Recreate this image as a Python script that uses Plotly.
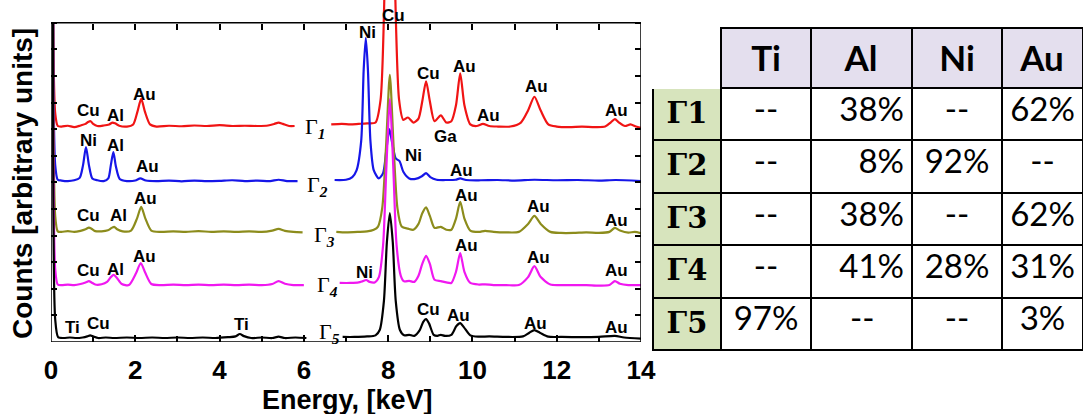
import plotly.graph_objects as go

# ---------------- EDX spectra data (energy in keV, counts in arbitrary units above each baseline)
g1_left_keV = [0.05, 0.1, 0.16, 0.25, 0.4, 0.55, 0.7, 0.82, 0.88, 0.94, 1.0, 1.1, 1.25, 1.38, 1.46, 1.52, 1.62, 1.8, 1.95, 2.05, 2.14, 2.23, 2.35, 2.5, 2.8, 3.1, 3.4, 3.7, 4.0, 4.3, 4.6, 4.9, 5.15, 5.3, 5.4, 5.5, 5.65, 5.78]
g1_left_counts = [3.9, 0.5, 0.02, 0.0, 0.03, -0.02, 0.04, 0.1, 0.17, 0.2, 0.1, 0.02, 0.04, 0.08, 0.15, 0.12, 0.03, 0.0, 0.08, 0.55, 1.04, 0.55, 0.08, 0.0, 0.03, 0.01, 0.04, 0.02, 0.05, 0.02, 0.03, 0.02, 0.04, 0.1, 0.15, 0.1, 0.02, 0.02]
g1_right_keV = [6.65, 6.9, 7.1, 7.3, 7.5, 7.7, 7.82, 7.92, 8.04, 8.16, 8.26, 8.36, 8.47, 8.6, 8.72, 8.81, 8.9, 8.99, 9.1, 9.25, 9.38, 9.5, 9.61, 9.71, 9.81, 9.95, 10.1, 10.25, 10.4, 10.6, 10.9, 11.15, 11.32, 11.47, 11.62, 11.8, 12.0, 12.3, 12.6, 12.9, 13.15, 13.28, 13.38, 13.48, 13.62, 13.75, 13.88, 14.0]
g1_right_counts = [0.08, 0.1, 0.08, 0.1, 0.12, 0.15, 1.0, 5.5, 16.0, 5.5, 1.0, 0.25, 0.34, 0.15, 0.3, 0.95, 1.7, 0.95, 0.2, 0.42, 0.15, 0.2, 0.8, 2.0, 0.8, 0.08, 0.02, 0.1, 0.02, 0.0, 0.0, 0.15, 0.6, 1.12, 0.6, 0.08, 0.0, -0.02, 0.0, -0.02, 0.0, 0.15, 0.28, 0.15, 0.02, 0.08, 0.0, -0.05]

g2_left_keV = [0.05, 0.1, 0.16, 0.25, 0.4, 0.55, 0.68, 0.76, 0.83, 0.9, 0.98, 1.1, 1.25, 1.36, 1.42, 1.48, 1.54, 1.63, 1.8, 2.0, 2.12, 2.25, 2.5, 2.8, 3.1, 3.4, 3.7, 4.0, 4.3, 4.6, 4.9, 5.2, 5.4, 5.6, 5.85]
g2_left_counts = [5.95, 0.6, 0.05, 0.02, 0.0, 0.03, 0.12, 0.6, 1.28, 0.6, 0.1, 0.03, 0.0, 0.1, 0.6, 1.09, 0.55, 0.08, 0.0, 0.02, 0.1, 0.02, 0.0, 0.02, -0.01, 0.02, 0.0, 0.01, 0.03, 0.0, 0.02, 0.0, 0.05, 0.0, 0.0]
g2_right_keV = [6.73, 7.0, 7.15, 7.25, 7.36, 7.42, 7.47, 7.52, 7.58, 7.66, 7.78, 7.88, 7.96, 8.03, 8.1, 8.18, 8.27, 8.36, 8.5, 8.65, 8.8, 8.9, 9.0, 9.15, 9.4, 9.6, 9.71, 9.85, 10.2, 10.6, 11.0, 11.47, 12.0, 12.5, 13.0, 13.4, 14.0]
g2_right_counts = [0.04, 0.05, 0.15, 0.4, 1.5, 4.2, 5.38, 4.2, 1.5, 0.4, 0.1, 0.3, 1.2, 1.95, 1.4, 0.85, 0.75, 0.35, 0.1, 0.08, 0.18, 0.3, 0.15, 0.05, 0.04, 0.05, 0.1, 0.04, 0.03, 0.04, 0.02, 0.05, 0.03, 0.04, 0.02, 0.04, 0.0]

g3_left_keV = [0.05, 0.1, 0.16, 0.25, 0.4, 0.55, 0.7, 0.82, 0.9, 0.96, 1.05, 1.2, 1.35, 1.44, 1.5, 1.57, 1.7, 1.9, 2.04, 2.14, 2.24, 2.38, 2.6, 2.9, 3.2, 3.5, 3.8, 4.1, 4.4, 4.7, 5.0, 5.25, 5.4, 5.55, 5.75, 5.97]
g3_left_counts = [7.86, 0.6, 0.02, 0.0, 0.03, 0.0, 0.04, 0.1, 0.16, 0.12, 0.03, 0.02, 0.06, 0.15, 0.19, 0.1, 0.02, 0.05, 0.5, 0.94, 0.5, 0.05, 0.0, 0.02, 0.0, 0.03, 0.0, 0.02, 0.0, 0.02, 0.0, 0.05, 0.11, 0.04, 0.0, -0.02]
g3_right_keV = [6.77, 7.0, 7.3, 7.5, 7.66, 7.76, 7.86, 7.95, 8.04, 8.13, 8.22, 8.32, 8.47, 8.6, 8.72, 8.81, 8.9, 8.99, 9.1, 9.25, 9.38, 9.5, 9.61, 9.71, 9.81, 9.95, 10.15, 10.3, 10.5, 10.8, 11.1, 11.32, 11.47, 11.62, 11.85, 12.1, 12.4, 12.7, 13.0, 13.25, 13.38, 13.5, 13.7, 13.85, 14.0]
g3_right_counts = [0.0, -0.02, 0.0, 0.02, 0.08, 0.2, 0.9, 3.2, 5.9, 3.2, 0.9, 0.2, 0.12, 0.08, 0.3, 0.7, 0.92, 0.6, 0.15, 0.19, 0.08, 0.08, 0.5, 1.13, 0.5, 0.05, 0.0, 0.04, 0.0, -0.02, 0.0, 0.3, 0.6, 0.3, 0.0, -0.04, -0.04, -0.02, -0.04, 0.0, 0.15, 0.05, -0.03, 0.0, -0.05]

g4_left_keV = [0.05, 0.1, 0.16, 0.25, 0.4, 0.55, 0.7, 0.82, 0.9, 0.96, 1.05, 1.2, 1.33, 1.42, 1.49, 1.56, 1.68, 1.85, 2.02, 2.13, 2.24, 2.38, 2.6, 2.9, 3.2, 3.5, 3.8, 4.1, 4.4, 4.7, 5.0, 5.25, 5.4, 5.55, 5.75, 6.0]
g4_left_counts = [9.86, 0.6, 0.02, 0.0, 0.02, 0.0, 0.04, 0.1, 0.15, 0.1, 0.02, 0.03, 0.12, 0.3, 0.38, 0.28, 0.04, 0.0, 0.45, 0.83, 0.45, 0.04, 0.0, 0.02, 0.0, 0.02, 0.0, 0.02, 0.0, 0.02, 0.0, 0.04, 0.15, 0.05, 0.0, 0.0]
g4_right_keV = [6.85, 7.1, 7.3, 7.4, 7.48, 7.56, 7.68, 7.78, 7.88, 7.96, 8.04, 8.12, 8.2, 8.3, 8.38, 8.5, 8.62, 8.72, 8.81, 8.9, 8.99, 9.1, 9.25, 9.38, 9.5, 9.61, 9.71, 9.81, 9.95, 10.15, 10.3, 10.5, 10.8, 11.1, 11.32, 11.47, 11.62, 11.85, 12.1, 12.4, 12.7, 13.0, 13.25, 13.38, 13.5, 13.7, 13.85, 14.0]
g4_right_counts = [0.08, 0.08, 0.1, 0.15, 0.19, 0.12, 0.1, 0.3, 1.5, 4.5, 7.0, 4.5, 1.5, 0.35, 0.14, 0.16, 0.12, 0.35, 0.8, 1.1, 0.8, 0.2, 0.15, 0.1, 0.08, 0.5, 1.2, 0.5, 0.08, 0.02, 0.03, 0.0, 0.0, 0.0, 0.3, 0.71, 0.3, 0.02, 0.0, 0.0, 0.0, -0.02, 0.0, 0.15, 0.05, 0.0, 0.0, 0.0]

g5_left_keV = [0.05, 0.1, 0.17, 0.3, 0.45, 0.6, 0.75, 0.86, 0.93, 1.0, 1.12, 1.3, 1.5, 1.8, 2.1, 2.4, 2.7, 3.0, 3.3, 3.6, 3.9, 4.2, 4.38, 4.48, 4.58, 4.75, 5.0, 5.25, 5.4, 5.55, 5.8, 6.06]
g5_left_counts = [11.85, 0.7, 0.03, 0.0, 0.02, 0.0, 0.02, 0.06, 0.1, 0.06, 0.0, 0.02, 0.0, 0.02, 0.0, 0.02, 0.0, 0.02, 0.0, 0.02, 0.0, 0.03, 0.06, 0.15, 0.07, 0.0, 0.02, 0.0, 0.05, 0.0, 0.02, 0.0]
g5_right_keV = [6.92, 7.2, 7.5, 7.7, 7.8, 7.9, 7.97, 8.04, 8.11, 8.18, 8.28, 8.38, 8.5, 8.62, 8.75, 8.83, 8.9, 8.97, 9.08, 9.17, 9.25, 9.35, 9.5, 9.62, 9.71, 9.8, 9.95, 10.15, 10.4, 10.8, 11.2, 11.35, 11.47, 11.6, 11.8, 12.1, 12.5, 13.0, 13.38, 13.6, 14.0]
g5_right_counts = [0.04, 0.04, 0.06, 0.1, 0.3, 1.4, 3.6, 4.7, 3.6, 1.4, 0.3, 0.1, 0.12, 0.08, 0.3, 0.6, 0.71, 0.55, 0.12, 0.08, 0.12, 0.08, 0.12, 0.45, 0.56, 0.4, 0.1, 0.05, 0.06, 0.04, 0.06, 0.2, 0.3, 0.2, 0.05, 0.04, 0.03, 0.04, 0.08, 0.02, -0.02]

spectrum_names = ["Γ1", "Γ2", "Γ3", "Γ4", "Γ5"]
spectrum_offsets = [8.1, 6.05, 4.14, 2.14, 0.15]
spectrum_colors = ["#f01414", "#1616e8", "#8c8c1c", "#f018f0", "#000000"]

# peak labels: (spectrum index, element, energy keV, level)
peak_labels = [
    (0, "Cu", 0.90, 8.72), (0, "Al", 1.52, 8.53), (0, "Au", 2.23, 9.32), (0, "Cu", 8.12, 12.29),
    (0, "Cu", 8.95, 10.11), (0, "Au", 9.80, 10.34), (0, "Ga", 9.35, 7.71), (0, "Au", 10.37, 8.50),
    (0, "Au", 11.53, 9.59), (0, "Au", 13.43, 8.72),
    (1, "Ni", 0.88, 7.59), (1, "Al", 1.52, 7.37), (1, "Au", 2.28, 6.58), (1, "Ni", 7.50, 11.65),
    (1, "Ni", 8.59, 7.03), (1, "Au", 9.75, 6.43),
    (2, "Cu", 0.90, 4.74), (2, "Al", 1.59, 4.77), (2, "Au", 2.25, 5.41), (2, "Au", 9.87, 5.49),
    (2, "Au", 11.56, 5.08), (2, "Au", 13.41, 4.55),
    (3, "Cu", 0.90, 2.67), (3, "Al", 1.52, 2.74), (3, "Au", 2.23, 3.23), (3, "Ni", 7.45, 2.63),
    (3, "Au", 9.87, 3.61), (3, "Au", 11.56, 3.16), (3, "Au", 13.41, 2.67),
    (4, "Ti", 0.50, 0.56), (4, "Cu", 1.12, 0.68), (4, "Ti", 4.53, 0.64), (4, "Cu", 8.95, 1.24),
    (4, "Au", 9.66, 0.98), (4, "Au", 11.49, 0.68), (4, "Au", 13.43, 0.53),
]
# curve name labels: (energy keV of left edge, level)
name_label_pos = [(5.98, 8.05), (6.03, 5.85), (6.19, 3.97), (6.27, 2.09), (6.31, 0.32)]

x_ticks = [0, 2, 4, 6, 8, 10, 12, 14]

# ---------------- composition table
table_elements = ["Ti", "Al", "Ni", "Au"]
table_rows = ["Γ1", "Γ2", "Γ3", "Γ4", "Γ5"]
ti_pct = ["--", "--", "--", "--", "97%"]
al_pct = ["38%", "8%", "38%", "41%", "--"]
ni_pct = ["--", "92%", "--", "28%", "--"]
au_pct = ["62%", "--", "62%", "31%", "3%"]

left_sets = [(g1_left_keV, g1_left_counts), (g2_left_keV, g2_left_counts), (g3_left_keV, g3_left_counts),
             (g4_left_keV, g4_left_counts), (g5_left_keV, g5_left_counts)]
right_sets = [(g1_right_keV, g1_right_counts), (g2_right_keV, g2_right_counts), (g3_right_keV, g3_right_counts),
              (g4_right_keV, g4_right_counts), (g5_right_keV, g5_right_counts)]

W, H = 1083, 414
PLOT_L, PLOT_R, PLOT_T, PLOT_B = 51, 641, 0, 342
PX_PER_UNIT = 26.6
y_top = (PLOT_B - PLOT_T) / PX_PER_UNIT
frame_top_px = PLOT_B - 12 * PX_PER_UNIT

def px_x(p):
    return p / W

def px_y(p):
    return (H - p) / H

fig = go.Figure()
for i in range(5):
    (lx, lc), (rx, rc) = left_sets[i], right_sets[i]
    off = spectrum_offsets[i]
    xs = list(lx) + [None] + list(rx)
    ys = [off + c for c in lc] + [None] + [off + c for c in rc]
    fig.add_trace(go.Scatter(
        x=xs, y=ys, mode="lines", name=spectrum_names[i], connectgaps=False,
        line=dict(color=spectrum_colors[i], width=2.2, shape="spline", smoothing=0.7),
        showlegend=False, hoverinfo="skip"))

lav = "#e4dfee"
green = "#d7e4bd"
NBSP = "\u00a0"
THIN = "\u2009"
# Al column is right-aligned; the dash entries are shifted back to the cell centre
al_cells = [v if v != "--" else "--" + NBSP * 3 + THIN for v in al_pct]
fig.add_trace(go.Table(
    domain=dict(x=[px_x(653), 1.0], y=[0.0, px_y(28)]),
    columnwidth=[68, 90, 101, 90, 81],
    header=dict(
        values=[""] + ["<b>%s</b>" % e for e in table_elements],
        fill=dict(color=["white", lav, lav, lav, lav]),
        line=dict(color=["white", "black", "black", "black", "black"], width=2),
        font=dict(family="Lato", size=35, color="black"),
        align="center", height=60),
    cells=dict(
        values=[["<b>%s</b>" % r for r in table_rows], ti_pct, al_cells, ni_pct, au_pct],
        fill=dict(color=[green, "white", "white", "white", "white"]),
        line=dict(color="black", width=2),
        font=dict(family=["DejaVu Serif", "Lato", "Lato", "Lato", "Lato"], size=[29, 33, 33, 33, 33], color="black"),
        align=["center", "center", "right", "center", "center"], height=52.4),
))

annotations = []
for (si, el, ex, ey) in peak_labels:
    annotations.append(dict(x=ex, y=ey, xref="x", yref="y", text=el, showarrow=False,
                            xanchor="center", yanchor="middle",
                            font=dict(family="Liberation Sans", size=17, color="black", weight="bold")))
for i, (nx, ny) in enumerate(name_label_pos):
    annotations.append(dict(x=nx, y=ny, xref="x", yref="y", xanchor="left", yanchor="middle",
                            text="Γ<sub><b><i>%d</i></b></sub>" % (i + 1), showarrow=False,
                            font=dict(family="Liberation Serif", size=22, color="black")))
annotations.append(dict(x=px_x(22), y=px_y(184), xref="paper", yref="paper",
                        xanchor="center", yanchor="middle",
                        text="Counts [arbitrary units]", textangle=-90, showarrow=False,
                        font=dict(family="Liberation Sans", size=28, color="black", weight="bold")))
annotations.append(dict(x=px_x(347), y=px_y(400), xref="paper", yref="paper",
                        xanchor="center", yanchor="middle",
                        text="Energy, [keV]", showarrow=False,
                        font=dict(family="Liberation Sans", size=27, color="black", weight="bold")))

fig.update_layout(
    width=W, height=H,
    margin=dict(l=0, r=0, t=0, b=0, pad=0, autoexpand=False),
    paper_bgcolor="white", plot_bgcolor="white",
    showlegend=False,
    xaxis=dict(domain=[px_x(PLOT_L), px_x(PLOT_R)], anchor="y", automargin=False,
               range=[0, 14], tickmode="array", tickvals=x_ticks, ticktext=[str(t) for t in x_ticks],
               ticks="inside", ticklen=7, tickwidth=1.5, tickcolor="black",
               minor=dict(dtick=1, tick0=0, ticks="inside", ticklen=6, tickwidth=1.5, tickcolor="black"),
               tickfont=dict(family="Liberation Sans", size=26, color="black", weight="bold"),
               ticklabelstandoff=10,
               showgrid=False, zeroline=False, showline=False),
    xaxis2=dict(range=[0, 14], overlaying="x", anchor="free", position=px_y(frame_top_px), side="top",
                automargin=False,
                tickmode="linear", tick0=0, dtick=1, ticks="inside", ticklen=6, tickwidth=1.5,
                tickcolor="black", showticklabels=False, showgrid=False, zeroline=False, showline=False),
    yaxis=dict(domain=[px_y(PLOT_B), px_y(PLOT_T)], anchor="x", automargin=False,
               range=[0, y_top], tickmode="linear", tick0=0, dtick=1, ticks="inside", ticklen=6,
               tickwidth=1.5, tickcolor="black", showticklabels=False, showgrid=False, zeroline=False,
               showline=False),
    yaxis2=dict(range=[0, y_top], overlaying="y", side="right", anchor="x", automargin=False,
                tickmode="linear", tick0=0,
                dtick=1, ticks="inside", ticklen=6, tickwidth=1.5, tickcolor="black",
                showticklabels=False, showgrid=False, zeroline=False, showline=False),
    shapes=[dict(type="rect", xref="x", yref="y", x0=0, x1=14, y0=0, y1=12,
                 line=dict(color="black", width=1.5), layer="above")],
    annotations=annotations,
)
# invisible trace so the mirrored axes render
fig.add_trace(go.Scatter(x=[0], y=[0], xaxis="x2", yaxis="y2", mode="markers",
                         marker=dict(opacity=0), showlegend=False, hoverinfo="skip"))

fig.write_html("out.html")
